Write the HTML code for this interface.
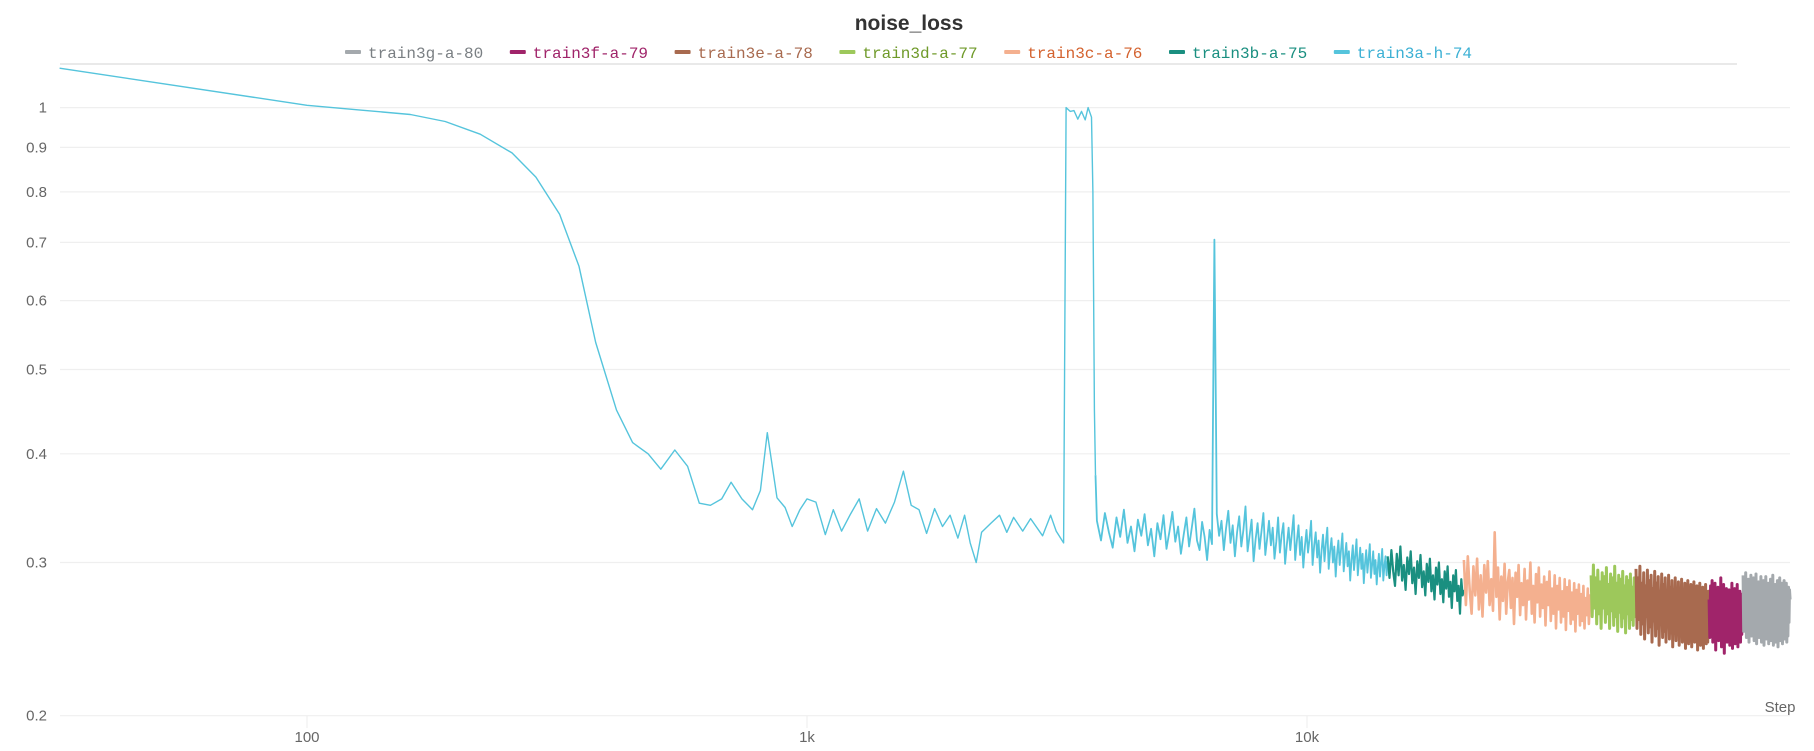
<!DOCTYPE html>
<html><head><meta charset="utf-8"><style>
html,body{margin:0;padding:0;background:#fff;width:1814px;height:751px;overflow:hidden}
svg{display:block}
text{font-family:"Liberation Sans",sans-serif}
.leg{font-family:"Liberation Mono",monospace;font-size:16px}
</style></head><body>
<svg id="chart" width="1814" height="751">
<text x="909" y="30" text-anchor="middle" font-size="21" font-weight="bold" fill="#333">noise_loss</text>
<line x1="60" y1="64" x2="1737" y2="64" stroke="#e2e2e2" stroke-width="1.5"/>
<g id="legend"></g>
<g id="grid"></g>
<g id="series"></g>
<text x="1780" y="712" text-anchor="middle" font-size="15" fill="#666">Step</text>
</svg>
<script>
const yTicks=[1,0.9,0.8,0.7,0.6,0.5,0.4,0.3,0.2];
const yTickLabels=["1","0.9","0.8","0.7","0.6","0.5","0.4","0.3","0.2"];
const xTicks=[100,1000,10000];
const xTickLabels=["100","1k","10k"];
const seriesNames=["train3g-a-80","train3f-a-79","train3e-a-78","train3d-a-77","train3c-a-76","train3b-a-75","train3a-h-74"];
const seriesColors=["#a4a9ad","#a0246a","#a86a4f","#9dc85b","#f4b08f","#1a8f80","#55c4dc"];
const legendTextColors=["#7a7f83","#a0246a","#a86a4f","#6f9a2a","#d4622e","#1a8f80","#3bb0d4"];
const cyanSteps=[32,100,127,161,189,222,257,287,320,350,378,416,448,481,510,544,577,609,641,675,705,741,778,807,833,871,904,934,968,1000,1042,1088,1129,1173,1222,1272,1322,1377,1435,1496,1559,1616,1675,1735,1800,1866,1933,2004,2066,2120,2180,2235,2333,2427,2510,2590,2700,2800,2960,3070,3150,3260,3297,3360,3420,3480,3540,3600,3650,3706,3730,3757,3775];
const cyanValues=[1.11,1.006,0.994,0.982,0.964,0.932,0.887,0.832,0.754,0.657,0.537,0.449,0.412,0.400,0.384,0.404,0.387,0.351,0.349,0.355,0.371,0.355,0.345,0.363,0.423,0.356,0.347,0.330,0.345,0.355,0.352,0.323,0.345,0.326,0.341,0.355,0.326,0.346,0.333,0.352,0.382,0.349,0.345,0.324,0.346,0.330,0.340,0.320,0.340,0.316,0.300,0.325,0.333,0.340,0.325,0.338,0.326,0.337,0.322,0.340,0.326,0.316,1.0,0.99,0.992,0.97,0.99,0.968,1.0,0.975,0.8,0.45,0.378];
const cyanTailRange=[3800,14500];
const cyanTail=[0.335,0.318,0.342,0.325,0.312,0.338,0.321,0.345,0.316,0.33,0.309,0.336,0.322,0.341,0.314,0.328,0.305,0.333,0.319,0.34,0.311,0.326,0.343,0.317,0.33,0.307,0.323,0.338,0.313,0.329,0.346,0.318,0.31,0.334,0.321,0.302,0.327,0.315,0.705,0.341,0.322,0.335,0.31,0.328,0.344,0.316,0.331,0.305,0.325,0.339,0.313,0.327,0.348,0.309,0.322,0.336,0.301,0.319,0.333,0.311,0.326,0.342,0.306,0.32,0.335,0.314,0.329,0.303,0.317,0.338,0.308,0.323,0.333,0.299,0.315,0.329,0.31,0.324,0.34,0.302,0.318,0.331,0.306,0.321,0.296,0.313,0.327,0.308,0.32,0.335,0.298,0.314,0.325,0.304,0.318,0.292,0.31,0.323,0.301,0.316,0.329,0.295,0.309,0.32,0.3,0.313,0.289,0.306,0.318,0.298,0.311,0.324,0.293,0.305,0.316,0.297,0.309,0.286,0.302,0.314,0.294,0.306,0.319,0.29,0.301,0.312,0.295,0.307,0.284,0.299,0.31,0.292,0.303,0.315,0.288,0.298,0.309,0.291,0.302,0.283,0.296,0.307,0.289,0.3,0.311,0.286,0.297,0.305,0.29,0.301];
const tealRange=[14500,20600];
const tealValues=[0.305,0.288,0.31,0.293,0.282,0.307,0.29,0.313,0.286,0.298,0.279,0.304,0.291,0.309,0.284,0.296,0.276,0.301,0.288,0.306,0.281,0.293,0.275,0.299,0.285,0.303,0.278,0.29,0.272,0.296,0.283,0.3,0.276,0.287,0.27,0.293,0.28,0.297,0.274,0.285,0.266,0.29,0.278,0.294,0.271,0.282,0.262,0.287,0.275,0.279];
const peachRange=[20600,37000];
const peachValues=[0.302,0.268,0.305,0.279,0.262,0.297,0.275,0.303,0.265,0.29,0.26,0.298,0.277,0.301,0.268,0.287,0.264,0.325,0.274,0.296,0.258,0.289,0.271,0.299,0.262,0.285,0.294,0.266,0.288,0.255,0.292,0.274,0.298,0.261,0.284,0.268,0.295,0.258,0.286,0.272,0.3,0.262,0.282,0.256,0.291,0.27,0.296,0.26,0.283,0.266,0.289,0.254,0.285,0.268,0.293,0.257,0.28,0.262,0.29,0.252,0.282,0.265,0.288,0.256,0.278,0.26,0.287,0.251,0.281,0.264,0.286,0.255,0.277,0.258,0.284,0.25,0.279,0.262,0.283,0.254,0.276,0.257,0.282,0.252,0.273,0.261,0.28,0.255,0.275,0.264];
const greenRange=[37000,45500];
const greenValues=[0.29,0.26,0.298,0.266,0.288,0.255,0.294,0.262,0.285,0.252,0.292,0.266,0.289,0.256,0.296,0.262,0.283,0.252,0.291,0.264,0.288,0.254,0.297,0.26,0.284,0.25,0.29,0.263,0.287,0.253,0.293,0.259,0.282,0.249,0.289,0.262,0.286,0.252,0.291,0.258,0.281,0.254,0.288,0.26,0.276];
const brownRange=[45500,63700];
const brownValues=[0.295,0.252,0.288,0.258,0.297,0.248,0.284,0.255,0.292,0.245,0.282,0.26,0.294,0.249,0.286,0.253,0.29,0.243,0.28,0.257,0.293,0.247,0.284,0.252,0.289,0.241,0.278,0.259,0.291,0.246,0.283,0.25,0.288,0.243,0.276,0.255,0.29,0.245,0.281,0.249,0.286,0.24,0.275,0.256,0.288,0.244,0.279,0.248,0.285,0.241,0.274,0.253,0.287,0.243,0.278,0.247,0.284,0.239,0.273,0.252,0.286,0.242,0.276,0.246,0.283,0.24,0.272,0.251,0.285,0.243,0.275,0.245,0.282,0.238,0.271,0.25,0.284,0.241,0.274,0.244,0.281,0.239,0.27,0.249,0.283,0.242,0.273,0.243,0.278,0.247];
const magentaRange=[63700,74500];
const magentaValues=[0.272,0.246,0.282,0.25,0.286,0.243,0.278,0.252,0.284,0.238,0.276,0.248,0.281,0.244,0.274,0.247,0.288,0.24,0.277,0.25,0.283,0.236,0.274,0.247,0.28,0.243,0.272,0.245,0.279,0.241,0.276,0.249,0.284,0.239,0.273,0.244,0.28,0.242,0.27,0.25,0.283,0.24,0.275,0.246,0.278,0.243,0.272,0.248,0.276,0.255];
const greyRange=[74500,92500];
const greyValues=[0.29,0.25,0.282,0.256,0.292,0.246,0.278,0.253,0.287,0.243,0.276,0.258,0.29,0.247,0.28,0.251,0.288,0.244,0.274,0.255,0.291,0.242,0.277,0.249,0.285,0.246,0.272,0.254,0.289,0.243,0.279,0.248,0.286,0.241,0.275,0.252,0.289,0.245,0.273,0.25,0.284,0.242,0.276,0.247,0.287,0.244,0.271,0.253,0.29,0.241,0.278,0.246,0.283,0.243,0.274,0.251,0.286,0.24,0.272,0.248,0.288,0.244,0.277,0.249,0.284,0.242,0.273,0.252,0.286,0.245,0.27,0.25,0.284,0.243,0.275,0.247,0.281,0.256,0.279,0.272];

const NS='http://www.w3.org/2000/svg';
function xScale(s){return 307+(Math.log10(s)-2)*500;}
function yScale(v){return 107.6-Math.log10(v)*870;}
function mk(tag,attrs,parent){const e=document.createElementNS(NS,tag);for(const k in attrs)e.setAttribute(k,attrs[k]);parent.appendChild(e);return e;}
const grid=document.getElementById('grid');
yTicks.forEach((t,i)=>{
  const y=yScale(t);
  const l=mk('line',{x1:60,x2:1790,y1:y,y2:y,stroke:'#efefef','stroke-width':1.2},grid);
  
  
  const tx=mk('text',{x:47,y:y+5,'text-anchor':'end','font-size':15,fill:'#666'},grid);
  tx.textContent=yTickLabels[i];
  
  
});
xTicks.forEach((t,i)=>{
  const x=xScale(t);
  const l=mk('line',{x1:x,x2:x,y1:716,y2:728,stroke:'#eee','stroke-width':1},grid);
  
  
  const tx=mk('text',{x:x,y:742,'text-anchor':'middle','font-size':15,fill:'#666'},grid);
  tx.textContent=xTickLabels[i];
  
  
});
function evenSteps(range,n){const a=[];for(let i=0;i<n;i++)a.push(range[0]+(range[1]-range[0])*i/(n-1));return a;}
const sg=document.getElementById('series');
function drawLine(steps,vals,color,name,w){
  let d='';
  for(let i=0;i<vals.length;i++)d+=(i?'L':'M')+xScale(steps[i]).toFixed(1)+','+yScale(vals[i]).toFixed(1);
  const p=mk('path',{d:d,fill:'none',stroke:color,'stroke-width':w,'stroke-linejoin':'round'},sg);
  
  
}
drawLine(cyanSteps,cyanValues,seriesColors[6],'line-train3a-h-74',1.4);
drawLine([cyanSteps[cyanSteps.length-1]].concat(evenSteps(cyanTailRange,cyanTail.length)),[cyanValues[cyanValues.length-1]].concat(cyanTail),seriesColors[6],'line-train3a-h-74-tail',1.8);
drawLine(evenSteps(tealRange,tealValues.length),tealValues,seriesColors[5],'line-train3b-a-75',2.2);
drawLine(evenSteps(peachRange,peachValues.length),peachValues,seriesColors[4],'line-train3c-a-76',2.6);
drawLine(evenSteps(greenRange,greenValues.length),greenValues,seriesColors[3],'line-train3d-a-77',3);
drawLine(evenSteps(brownRange,brownValues.length),brownValues,seriesColors[2],'line-train3e-a-78',3);
drawLine(evenSteps(magentaRange,magentaValues.length),magentaValues,seriesColors[1],'line-train3f-a-79',3);
drawLine(evenSteps(greyRange,greyValues.length),greyValues,seriesColors[0],'line-train3g-a-80',3);
const lg=document.getElementById('legend');
seriesNames.forEach((n,i)=>{
  const x=345+i*164.8;
  const g=mk('g',{},lg);
  
  
  mk('rect',{x:x,y:50,width:16,height:4,rx:1,fill:seriesColors[i]},g);
  const t=mk('text',{x:x+23,y:58,class:'leg',fill:legendTextColors[i]},g);
  t.textContent=n;
});
</script>
</body></html>
